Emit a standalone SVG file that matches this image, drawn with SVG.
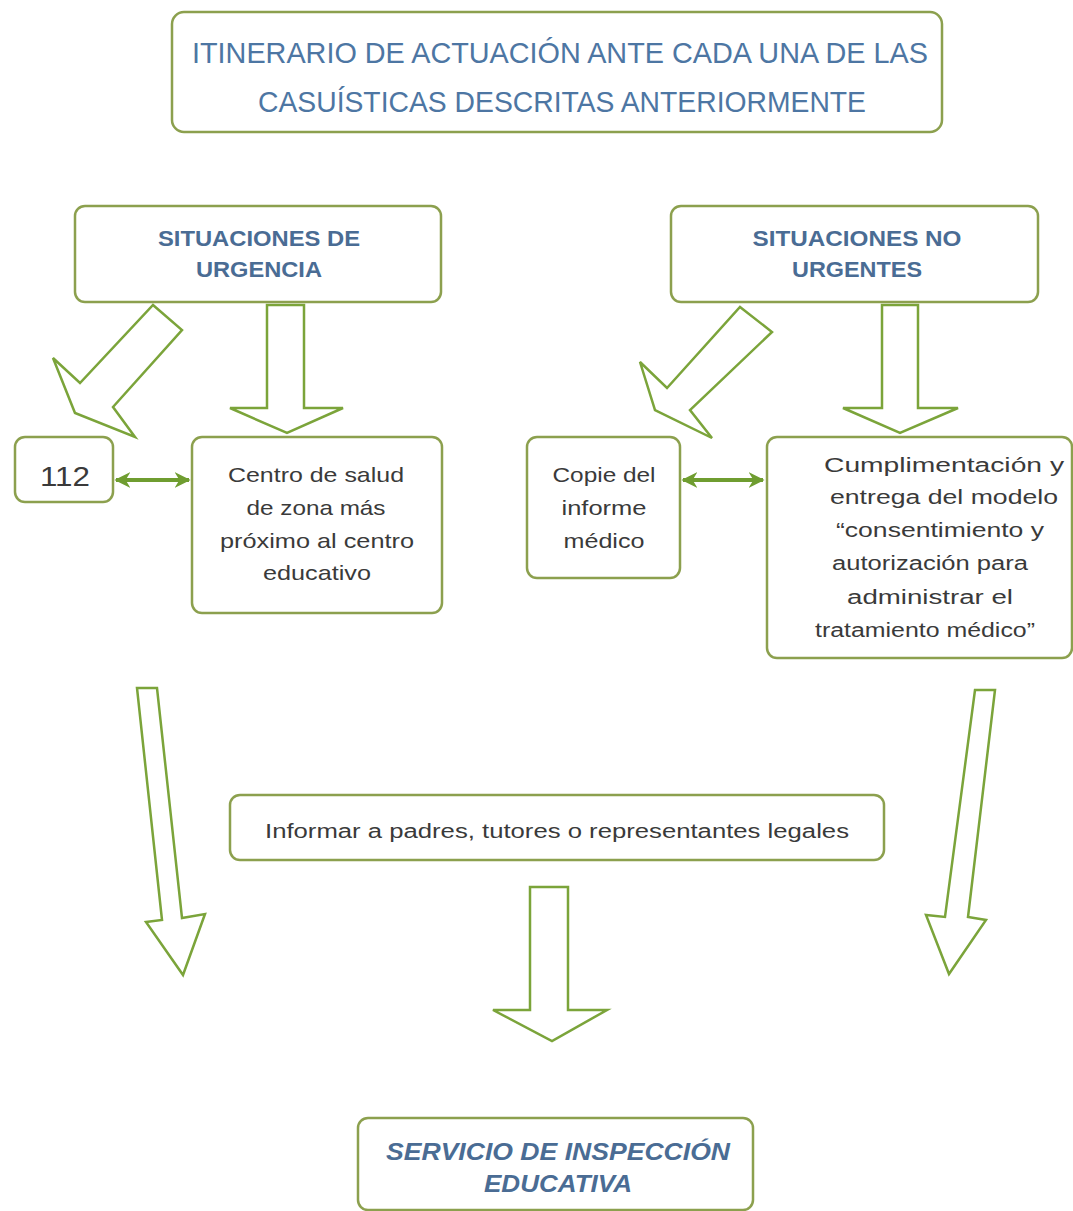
<svg xmlns="http://www.w3.org/2000/svg" width="1073" height="1211" viewBox="0 0 1073 1211">
<defs>
<style>
.box{fill:#ffffff;stroke:#8ca04e;stroke-width:2.5}
.blk{fill:#ffffff;stroke:#7ba43a;stroke-width:2.5;stroke-linejoin:miter}
.dbl{stroke:#6f9d30;stroke-width:4;fill:none}
.hd{font-family:"Liberation Sans",Arial,sans-serif;fill:#4d76a3;text-anchor:middle}
.sub{font-family:"Liberation Sans",Arial,sans-serif;fill:#4a6c94;text-anchor:middle;font-weight:bold}
.tx{font-family:"Liberation Sans",Arial,sans-serif;fill:#3a3a3a;text-anchor:middle}
.it{font-family:"Liberation Sans",Arial,sans-serif;fill:#4a6c94;text-anchor:middle;font-weight:bold;font-style:italic}
</style>
<marker id="ah" viewBox="0 0 10 10" refX="9" refY="5" markerWidth="4" markerHeight="4" orient="auto-start-reverse" markerUnits="strokeWidth">
<path d="M0,0 L10,5 L0,10 L3,5 Z" fill="#6f9d30"/>
</marker>
</defs>
<rect width="1073" height="1211" fill="#ffffff"/>

<g id="connectors">
<polygon class="blk" points="153,305 182,330 113,407 135,437 75,413 53,358 80,383"/>
<polygon class="blk" points="267,305 304,305 304,408 343,408 287,433 230,408 267,408"/>
<polygon class="blk" points="740,307 772,332 690,410 712,438 655,410 640,362 667,388"/>
<polygon class="blk" points="882,305 918,305 918,408 958,408 900,433 843,408 882,408"/>
<line class="dbl" x1="116" y1="480" x2="189" y2="480" marker-start="url(#ah)" marker-end="url(#ah)"/>
<line class="dbl" x1="683" y1="480" x2="763" y2="480" marker-start="url(#ah)" marker-end="url(#ah)"/>
<polygon class="blk" points="137,688 157,688 182,918 205,914 183,975 146,922 162,920"/>
<polygon class="blk" points="975,690 995,690 968,917 986,920 949,974 926,915 945,917"/>
<polygon class="blk" points="530,887 568,887 568,1010 607,1010 552,1041 493,1010 530,1010"/>
</g>

<g id="title">
<rect class="box" x="172" y="12" width="770" height="120" rx="12"/>
<text class="hd" x="560" y="63" font-size="29" textLength="736" lengthAdjust="spacingAndGlyphs">ITINERARIO DE ACTUACIÓN ANTE CADA UNA DE LAS</text>
<text class="hd" x="562" y="112" font-size="29" textLength="608" lengthAdjust="spacingAndGlyphs">CASUÍSTICAS DESCRITAS ANTERIORMENTE</text>
</g>

<g id="urgencia">
<rect class="box" x="75" y="206" width="366" height="96" rx="10"/>
<text class="sub" x="259" y="246" font-size="22" textLength="202" lengthAdjust="spacingAndGlyphs">SITUACIONES DE</text>
<text class="sub" x="259" y="277" font-size="22" textLength="126" lengthAdjust="spacingAndGlyphs">URGENCIA</text>
</g>

<g id="no-urgentes">
<rect class="box" x="671" y="206" width="367" height="96" rx="10"/>
<text class="sub" x="857" y="246" font-size="22" textLength="209" lengthAdjust="spacingAndGlyphs">SITUACIONES NO</text>
<text class="sub" x="857" y="277" font-size="22" textLength="130" lengthAdjust="spacingAndGlyphs">URGENTES</text>
</g>

<g id="n112">
<rect class="box" x="15" y="437" width="98" height="65" rx="10"/>
<text class="tx" x="65" y="486" font-size="27" textLength="50" lengthAdjust="spacingAndGlyphs">112</text>
</g>

<g id="centro-salud">
<rect class="box" x="192" y="437" width="250" height="176" rx="10"/>
<text class="tx" x="316" y="482" font-size="21" textLength="176" lengthAdjust="spacingAndGlyphs">Centro de salud</text>
<text class="tx" x="316" y="515" font-size="21" textLength="139" lengthAdjust="spacingAndGlyphs">de zona más</text>
<text class="tx" x="317" y="548" font-size="21" textLength="194" lengthAdjust="spacingAndGlyphs">próximo al centro</text>
<text class="tx" x="317" y="580" font-size="21" textLength="108" lengthAdjust="spacingAndGlyphs">educativo</text>
</g>

<g id="copia-informe">
<rect class="box" x="527" y="437" width="153" height="141" rx="10"/>
<text class="tx" x="604" y="482" font-size="21" textLength="103" lengthAdjust="spacingAndGlyphs">Copie del</text>
<text class="tx" x="604" y="515" font-size="21" textLength="85" lengthAdjust="spacingAndGlyphs">informe</text>
<text class="tx" x="604" y="548" font-size="21" textLength="81" lengthAdjust="spacingAndGlyphs">médico</text>
</g>

<g id="cumplimentacion">
<rect class="box" x="767" y="437" width="305" height="221" rx="10"/>
<text class="tx" x="944" y="472" font-size="20" textLength="240" lengthAdjust="spacingAndGlyphs">Cumplimentación y</text>
<text class="tx" x="944" y="504" font-size="20" textLength="228" lengthAdjust="spacingAndGlyphs">entrega del modelo</text>
<text class="tx" x="940" y="537" font-size="20" textLength="208" lengthAdjust="spacingAndGlyphs">“consentimiento y</text>
<text class="tx" x="930" y="570" font-size="20" textLength="196" lengthAdjust="spacingAndGlyphs">autorización para</text>
<text class="tx" x="930" y="604" font-size="20" textLength="166" lengthAdjust="spacingAndGlyphs">administrar el</text>
<text class="tx" x="925" y="637" font-size="20" textLength="220" lengthAdjust="spacingAndGlyphs">tratamiento médico”</text>
</g>

<g id="informar">
<rect class="box" x="230" y="795" width="654" height="65" rx="10"/>
<text class="tx" x="557" y="838" font-size="20" textLength="584" lengthAdjust="spacingAndGlyphs">Informar a padres, tutores o representantes legales</text>
</g>

<g id="inspeccion">
<rect class="box" x="358" y="1118" width="395" height="92" rx="10"/>
<text class="it" x="558" y="1160" font-size="23" textLength="344" lengthAdjust="spacingAndGlyphs">SERVICIO DE INSPECCIÓN</text>
<text class="it" x="558" y="1192" font-size="23" textLength="148" lengthAdjust="spacingAndGlyphs">EDUCATIVA</text>
</g>
</svg>
